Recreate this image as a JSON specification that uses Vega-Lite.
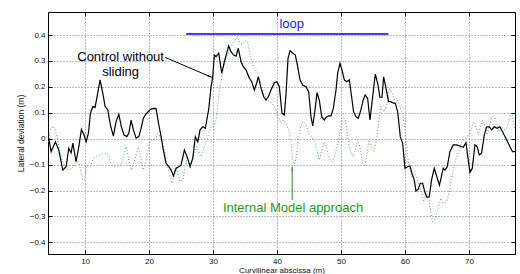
{
  "$schema": "https://vega.github.io/schema/vega-lite/v6.json",
  "width": 467,
  "height": 242,
  "autosize": {"type": "none"},
  "padding": {"left": 48, "top": 12, "right": 5, "bottom": 20},
  "background": "white",
  "config": {
    "view": {"stroke": "black", "strokeWidth": 1},
    "font": "Liberation Sans",
    "axis": {
      "domainColor": "black",
      "tickColor": "black",
      "labelColor": "#111",
      "titleColor": "#111",
      "labelFont": "Liberation Sans",
      "titleFont": "Liberation Sans",
      "labelFontSize": 8,
      "titleFontSize": 8.5,
      "titleFontWeight": "normal",
      "gridColor": "#777",
      "gridDash": [1, 2],
      "gridOpacity": 1,
      "gridWidth": 1,
      "tickSize": -4,
      "tickWidth": 1,
      "domainWidth": 1
    }
  },
  "datasets": {
    "ctrl": [
      {"x":4.33,"y":0.002},{"x":4.69,"y":-0.050},{"x":5.36,"y":-0.012},{"x":5.89,"y":-0.044},{"x":6.52,"y":-0.121},{"x":7.03,"y":-0.108},{"x":7.45,"y":-0.037},{"x":7.81,"y":-0.055},{"x":8.08,"y":-0.017},{"x":8.59,"y":-0.089},{"x":9.02,"y":-0.031},{"x":9.42,"y":0.036},{"x":9.84,"y":0.014},{"x":10.16,"y":-0.012},{"x":10.52,"y":0.021},{"x":10.83,"y":0.098},{"x":11.20,"y":0.124},{"x":11.56,"y":0.121},{"x":11.92,"y":0.169},{"x":12.34,"y":0.227},{"x":12.77,"y":0.175},{"x":13.13,"y":0.124},{"x":13.55,"y":0.111},{"x":13.95,"y":0.053},{"x":14.42,"y":0.010},{"x":14.84,"y":0.066},{"x":15.27,"y":0.095},{"x":15.67,"y":0.046},{"x":16.09,"y":0.014},{"x":16.52,"y":0.008},{"x":16.83,"y":0.021},{"x":17.19,"y":0.072},{"x":17.55,"y":0.034},{"x":17.97,"y":0.002},{"x":18.39,"y":0.008},{"x":18.75,"y":0.040},{"x":19.11,"y":0.079},{"x":19.42,"y":0.092},{"x":19.84,"y":0.104},{"x":20.31,"y":0.114},{"x":20.73,"y":0.117},{"x":21.09,"y":0.116},{"x":21.52,"y":0.053},{"x":21.88,"y":0.008},{"x":22.23,"y":-0.044},{"x":22.66,"y":-0.095},{"x":23.08,"y":-0.108},{"x":23.44,"y":-0.121},{"x":23.80,"y":-0.143},{"x":24.22,"y":-0.114},{"x":24.64,"y":-0.108},{"x":25.00,"y":-0.102},{"x":25.52,"y":-0.044},{"x":25.94,"y":-0.069},{"x":26.41,"y":-0.108},{"x":26.83,"y":-0.076},{"x":27.23,"y":0.008},{"x":27.61,"y":-0.012},{"x":27.97,"y":0.034},{"x":28.39,"y":0.046},{"x":28.80,"y":0.040},{"x":29.16,"y":0.092},{"x":29.31,"y":0.111},{"x":29.69,"y":0.201},{"x":29.95,"y":0.239},{"x":30.20,"y":0.323},{"x":30.47,"y":0.317},{"x":30.88,"y":0.330},{"x":31.36,"y":0.253},{"x":31.77,"y":0.297},{"x":32.13,"y":0.330},{"x":32.44,"y":0.358},{"x":32.80,"y":0.336},{"x":33.23,"y":0.323},{"x":33.59,"y":0.319},{"x":33.95,"y":0.349},{"x":34.38,"y":0.297},{"x":34.73,"y":0.278},{"x":35.16,"y":0.265},{"x":35.67,"y":0.233},{"x":36.05,"y":0.220},{"x":36.45,"y":0.188},{"x":36.72,"y":0.207},{"x":37.08,"y":0.239},{"x":37.50,"y":0.195},{"x":37.92,"y":0.162},{"x":38.28,"y":0.149},{"x":38.64,"y":0.162},{"x":39.06,"y":0.188},{"x":39.58,"y":0.216},{"x":40.00,"y":0.220},{"x":40.36,"y":0.201},{"x":40.78,"y":0.098},{"x":41.14,"y":0.092},{"x":41.41,"y":0.175},{"x":41.72,"y":0.310},{"x":42.03,"y":0.340},{"x":42.45,"y":0.330},{"x":42.86,"y":0.323},{"x":43.23,"y":0.278},{"x":43.59,"y":0.227},{"x":44.02,"y":0.207},{"x":44.53,"y":0.201},{"x":44.95,"y":0.181},{"x":45.31,"y":0.085},{"x":45.58,"y":0.049},{"x":45.94,"y":0.111},{"x":46.25,"y":0.178},{"x":46.61,"y":0.149},{"x":46.98,"y":0.085},{"x":47.39,"y":0.072},{"x":47.66,"y":0.083},{"x":48.08,"y":0.088},{"x":48.44,"y":0.088},{"x":48.80,"y":0.117},{"x":49.22,"y":0.188},{"x":49.48,"y":0.253},{"x":49.84,"y":0.291},{"x":50.16,"y":0.265},{"x":50.52,"y":0.227},{"x":50.89,"y":0.220},{"x":51.30,"y":0.227},{"x":51.66,"y":0.162},{"x":51.97,"y":0.104},{"x":52.34,"y":0.085},{"x":52.70,"y":0.079},{"x":53.11,"y":0.111},{"x":53.47,"y":0.149},{"x":53.78,"y":0.169},{"x":54.16,"y":0.156},{"x":54.53,"y":0.072},{"x":54.95,"y":0.162},{"x":55.36,"y":0.249},{"x":55.73,"y":0.214},{"x":56.09,"y":0.160},{"x":56.41,"y":0.160},{"x":56.67,"y":0.239},{"x":57.03,"y":0.195},{"x":57.45,"y":0.143},{"x":57.81,"y":0.143},{"x":58.17,"y":0.137},{"x":58.48,"y":0.137},{"x":58.86,"y":0.104},{"x":59.27,"y":0.008},{"x":59.64,"y":-0.018},{"x":60.00,"y":-0.114},{"x":60.42,"y":-0.108},{"x":60.78,"y":-0.105},{"x":61.09,"y":-0.134},{"x":61.45,"y":-0.159},{"x":61.72,"y":-0.202},{"x":62.08,"y":-0.195},{"x":62.39,"y":-0.172},{"x":62.77,"y":-0.172},{"x":63.13,"y":-0.208},{"x":63.44,"y":-0.226},{"x":63.80,"y":-0.224},{"x":64.16,"y":-0.159},{"x":64.58,"y":-0.114},{"x":65.39,"y":-0.179},{"x":65.99,"y":-0.114},{"x":66.25,"y":-0.121},{"x":66.61,"y":-0.108},{"x":67.03,"y":-0.050},{"x":67.55,"y":-0.024},{"x":68.08,"y":-0.024},{"x":68.59,"y":-0.028},{"x":69.11,"y":-0.033},{"x":69.53,"y":-0.015},{"x":69.89,"y":-0.082},{"x":70.16,"y":-0.131},{"x":70.52,"y":-0.114},{"x":70.94,"y":-0.024},{"x":71.30,"y":-0.031},{"x":71.61,"y":-0.063},{"x":71.98,"y":-0.056},{"x":72.39,"y":0.014},{"x":72.77,"y":0.046},{"x":73.17,"y":0.046},{"x":73.55,"y":0.034},{"x":73.95,"y":0.046},{"x":74.42,"y":0.040},{"x":74.84,"y":0.046},{"x":75.25,"y":0.027},{"x":75.77,"y":0.002},{"x":76.28,"y":-0.024},{"x":76.81,"y":-0.050},{"x":77.2,"y":-0.050}
    ],
    "imc": [
      {"x":4.30,"y":-0.013},{"x":4.53,"y":0.030},{"x":4.92,"y":0.049},{"x":5.31,"y":0.037},{"x":5.70,"y":-0.005},{"x":6.09,"y":-0.051},{"x":6.52,"y":-0.089},{"x":7.03,"y":-0.117},{"x":7.66,"y":-0.121},{"x":8.13,"y":-0.109},{"x":8.70,"y":-0.089},{"x":9.02,"y":-0.090},{"x":9.30,"y":-0.121},{"x":9.64,"y":-0.159},{"x":9.92,"y":-0.159},{"x":10.23,"y":-0.105},{"x":10.55,"y":-0.102},{"x":10.86,"y":-0.105},{"x":11.25,"y":-0.078},{"x":11.80,"y":-0.067},{"x":12.34,"y":-0.063},{"x":12.86,"y":-0.059},{"x":13.28,"y":-0.056},{"x":13.67,"y":-0.063},{"x":14.06,"y":-0.098},{"x":14.58,"y":-0.108},{"x":15.16,"y":-0.102},{"x":15.63,"y":-0.102},{"x":15.98,"y":-0.069},{"x":16.41,"y":-0.031},{"x":16.61,"y":-0.051},{"x":17.03,"y":-0.108},{"x":17.30,"y":-0.121},{"x":17.81,"y":-0.076},{"x":18.33,"y":-0.032},{"x":18.86,"y":-0.095},{"x":19.11,"y":-0.121},{"x":19.64,"y":-0.069},{"x":20.16,"y":-0.013},{"x":20.67,"y":-0.001},{"x":21.20,"y":0.008},{"x":21.45,"y":0.021},{"x":21.98,"y":-0.005},{"x":22.50,"y":-0.056},{"x":23.02,"y":-0.121},{"x":23.55,"y":-0.172},{"x":23.91,"y":-0.147},{"x":24.33,"y":-0.114},{"x":24.84,"y":-0.166},{"x":25.27,"y":-0.159},{"x":25.63,"y":-0.108},{"x":25.98,"y":-0.069},{"x":26.41,"y":-0.102},{"x":26.92,"y":-0.069},{"x":27.45,"y":-0.031},{"x":27.86,"y":-0.056},{"x":28.23,"y":-0.069},{"x":28.64,"y":-0.031},{"x":29.02,"y":-0.005},{"x":29.33,"y":0.021},{"x":29.69,"y":0.046},{"x":30.05,"y":0.046},{"x":30.47,"y":0.072},{"x":30.73,"y":0.124},{"x":30.98,"y":0.188},{"x":31.36,"y":0.239},{"x":31.77,"y":0.291},{"x":32.14,"y":0.317},{"x":32.55,"y":0.336},{"x":32.97,"y":0.362},{"x":33.48,"y":0.384},{"x":33.86,"y":0.392},{"x":34.27,"y":0.368},{"x":34.64,"y":0.366},{"x":35.05,"y":0.381},{"x":35.42,"y":0.371},{"x":35.78,"y":0.330},{"x":36.20,"y":0.285},{"x":36.61,"y":0.265},{"x":36.98,"y":0.253},{"x":37.50,"y":0.207},{"x":38.02,"y":0.169},{"x":38.39,"y":0.156},{"x":38.80,"y":0.143},{"x":39.22,"y":0.137},{"x":39.58,"y":0.126},{"x":40.11,"y":0.092},{"x":40.63,"y":0.059},{"x":41.05,"y":0.072},{"x":41.41,"y":0.059},{"x":41.83,"y":0.034},{"x":42.19,"y":-0.018},{"x":42.45,"y":-0.082},{"x":42.70,"y":-0.105},{"x":43.08,"y":-0.056},{"x":43.39,"y":0.008},{"x":43.75,"y":0.053},{"x":44.11,"y":0.066},{"x":44.53,"y":0.053},{"x":44.95,"y":0.021},{"x":45.31,"y":0.008},{"x":45.83,"y":-0.005},{"x":46.36,"y":-0.056},{"x":46.61,"y":-0.082},{"x":47.03,"y":-0.044},{"x":47.39,"y":-0.012},{"x":47.77,"y":-0.037},{"x":48.17,"y":-0.076},{"x":48.59,"y":-0.089},{"x":48.95,"y":-0.069},{"x":49.33,"y":-0.031},{"x":49.64,"y":-0.005},{"x":50.00,"y":0.046},{"x":50.36,"y":0.085},{"x":50.67,"y":0.072},{"x":50.94,"y":0.034},{"x":51.20,"y":-0.018},{"x":51.56,"y":-0.056},{"x":51.83,"y":-0.069},{"x":52.23,"y":-0.044},{"x":52.61,"y":-0.005},{"x":52.97,"y":-0.031},{"x":53.39,"y":-0.095},{"x":53.75,"y":-0.108},{"x":54.06,"y":-0.059},{"x":54.38,"y":-0.005},{"x":54.77,"y":-0.028},{"x":55.16,"y":-0.051},{"x":55.55,"y":-0.005},{"x":55.94,"y":0.072},{"x":56.25,"y":0.126},{"x":56.72,"y":0.103},{"x":57.19,"y":0.134},{"x":57.58,"y":0.196},{"x":57.97,"y":0.176},{"x":58.44,"y":0.149},{"x":58.91,"y":0.146},{"x":59.38,"y":0.111},{"x":59.89,"y":0.059},{"x":60.16,"y":-0.005},{"x":60.42,"y":-0.069},{"x":60.67,"y":-0.108},{"x":61.09,"y":-0.147},{"x":61.45,"y":-0.127},{"x":61.83,"y":-0.147},{"x":62.23,"y":-0.185},{"x":62.61,"y":-0.211},{"x":62.92,"y":-0.243},{"x":63.28,"y":-0.211},{"x":63.70,"y":-0.224},{"x":64.06,"y":-0.288},{"x":64.33,"y":-0.320},{"x":64.69,"y":-0.307},{"x":65.11,"y":-0.275},{"x":65.63,"y":-0.230},{"x":65.98,"y":-0.249},{"x":66.52,"y":-0.243},{"x":66.92,"y":-0.205},{"x":67.30,"y":-0.153},{"x":67.66,"y":-0.108},{"x":68.08,"y":-0.069},{"x":68.48,"y":-0.044},{"x":68.86,"y":-0.012},{"x":69.22,"y":-0.005},{"x":69.64,"y":0.008},{"x":70.05,"y":0.014},{"x":70.42,"y":0.040},{"x":70.67,"y":0.066},{"x":71.09,"y":0.046},{"x":71.45,"y":0.014},{"x":71.83,"y":0.046},{"x":72.14,"y":0.072},{"x":72.50,"y":0.053},{"x":72.77,"y":0.014},{"x":73.17,"y":0.046},{"x":73.55,"y":0.085},{"x":73.91,"y":0.092},{"x":74.33,"y":0.059},{"x":74.73,"y":0.027},{"x":75.11,"y":0.046},{"x":75.47,"y":0.034},{"x":75.89,"y":0.040},{"x":76.41,"y":0.085},{"x":76.72,"y":0.092},{"x":77.03,"y":0.053},{"x":77.2,"y":0.034}
    ],
    "loop": [{"x": 25.8, "x2": 57.4, "y": 0.404}],
    "loopLabel": [{"x": 42.3, "y": 0.443, "label": "loop"}],
    "ctrlLabel": [{"x": 15.55, "y": 0.316, "label": "Control without\nsliding"}],
    "ctrlArrow": [{"x": 22.5, "y": 0.314, "x2": 29.8, "y2": 0.237}],
    "ctrlHead": [{"x": 29.4, "y": 0.2415}],
    "imcLabel": [{"x": 42.5, "y": -0.268, "label": "Internal Model approach"}],
    "imcArrow": [{"x": 42.37, "y": -0.237, "x2": 42.37, "y2": -0.108}],
    "imcHead": [{"x": 42.37, "y": -0.119}]
  },
  "layer": [
    {
      "data": {"name": "imc"},
      "mark": {"type": "line", "color": "#4cb84c", "strokeWidth": 1, "strokeDash": [1, 2], "clip": true},
      "encoding": {
        "x": {"field": "x", "type": "quantitative", "scale": {"domain": [4.2, 77.2], "nice": false, "zero": false},
          "axis": {"values": [10, 20, 30, 40, 50, 60, 70], "title": "Curvilinear abscissa (m)", "titleFontSize": 8, "grid": true, "labelPadding": 7, "titleY": 20, "titleBaseline": "bottom"}},
        "y": {"field": "y", "type": "quantitative", "scale": {"domain": [-0.445, 0.489], "nice": false, "zero": false},
          "axis": {"values": [-0.4, -0.3, -0.2, -0.1, 0, 0.1, 0.2, 0.3, 0.4], "format": "~g", "title": "Lateral deviation (m)", "grid": true, "labelPadding": 7, "titleX": -27.5, "titleBaseline": "middle"}}
      }
    },
    {
      "data": {"name": "ctrl"},
      "mark": {"type": "line", "color": "black", "strokeWidth": 1.2, "clip": true},
      "encoding": {
        "x": {"field": "x", "type": "quantitative", "scale": {"domain": [4.2, 77.2], "nice": false, "zero": false}, "axis": null},
        "y": {"field": "y", "type": "quantitative", "scale": {"domain": [-0.445, 0.489], "nice": false, "zero": false}, "axis": null}
      }
    },
    {
      "data": {"name": "loop"},
      "mark": {"type": "rule", "color": "#0000ff", "strokeWidth": 1.5},
      "encoding": {
        "x": {"field": "x", "type": "quantitative", "scale": {"domain": [4.2, 77.2], "nice": false, "zero": false},
          "axis": {"orient": "top", "values": [10, 20, 30, 40, 50, 60, 70], "labels": false, "title": null, "grid": false, "domain": false}},
        "x2": {"field": "x2"},
        "y": {"field": "y", "type": "quantitative", "scale": {"domain": [-0.445, 0.489], "nice": false, "zero": false},
          "axis": {"orient": "right", "values": [-0.4, -0.3, -0.2, -0.1, 0, 0.1, 0.2, 0.3, 0.4], "labels": false, "title": null, "grid": false, "domain": false}}
      }
    },
    {
      "data": {"name": "loopLabel"},
      "mark": {"type": "text", "color": "#1a1aff", "fontSize": 13, "font": "Liberation Sans", "align": "center", "baseline": "middle"},
      "encoding": {
        "x": {"field": "x", "type": "quantitative", "axis": null},
        "y": {"field": "y", "type": "quantitative", "axis": null},
        "text": {"field": "label"}
      }
    },
    {
      "data": {"name": "ctrlLabel"},
      "mark": {"type": "text", "color": "black", "fontSize": 13, "font": "Liberation Sans", "align": "center", "baseline": "middle", "lineBreak": "\n", "lineHeight": 15},
      "encoding": {
        "x": {"field": "x", "type": "quantitative", "axis": null},
        "y": {"field": "y", "type": "quantitative", "axis": null},
        "text": {"field": "label"}
      }
    },
    {
      "data": {"name": "ctrlArrow"},
      "mark": {"type": "rule", "color": "black", "strokeWidth": 1},
      "encoding": {
        "x": {"field": "x", "type": "quantitative", "axis": null},
        "y": {"field": "y", "type": "quantitative", "axis": null},
        "x2": {"field": "x2"},
        "y2": {"field": "y2"}
      }
    },
    {
      "data": {"name": "ctrlHead"},
      "mark": {"type": "point", "shape": "wedge", "filled": true, "color": "black", "size": 40, "angle": 113, "opacity": 1},
      "encoding": {
        "x": {"field": "x", "type": "quantitative", "axis": null},
        "y": {"field": "y", "type": "quantitative", "axis": null}
      }
    },
    {
      "data": {"name": "imcLabel"},
      "mark": {"type": "text", "color": "#1f9a1f", "fontSize": 13, "font": "Liberation Sans", "align": "center", "baseline": "middle"},
      "encoding": {
        "x": {"field": "x", "type": "quantitative", "axis": null},
        "y": {"field": "y", "type": "quantitative", "axis": null},
        "text": {"field": "label"}
      }
    },
    {
      "data": {"name": "imcArrow"},
      "mark": {"type": "rule", "color": "#1f8a1f", "strokeWidth": 1},
      "encoding": {
        "x": {"field": "x", "type": "quantitative", "axis": null},
        "y": {"field": "y", "type": "quantitative", "axis": null},
        "x2": {"field": "x2"},
        "y2": {"field": "y2"}
      }
    },
    {
      "data": {"name": "imcHead"},
      "mark": {"type": "point", "shape": "wedge", "filled": true, "color": "#1f8a1f", "size": 30, "angle": 0, "opacity": 1},
      "encoding": {
        "x": {"field": "x", "type": "quantitative", "axis": null},
        "y": {"field": "y", "type": "quantitative", "axis": null}
      }
    }
  ],
  "resolve": {"axis": {"x": "independent", "y": "independent"}}
}
